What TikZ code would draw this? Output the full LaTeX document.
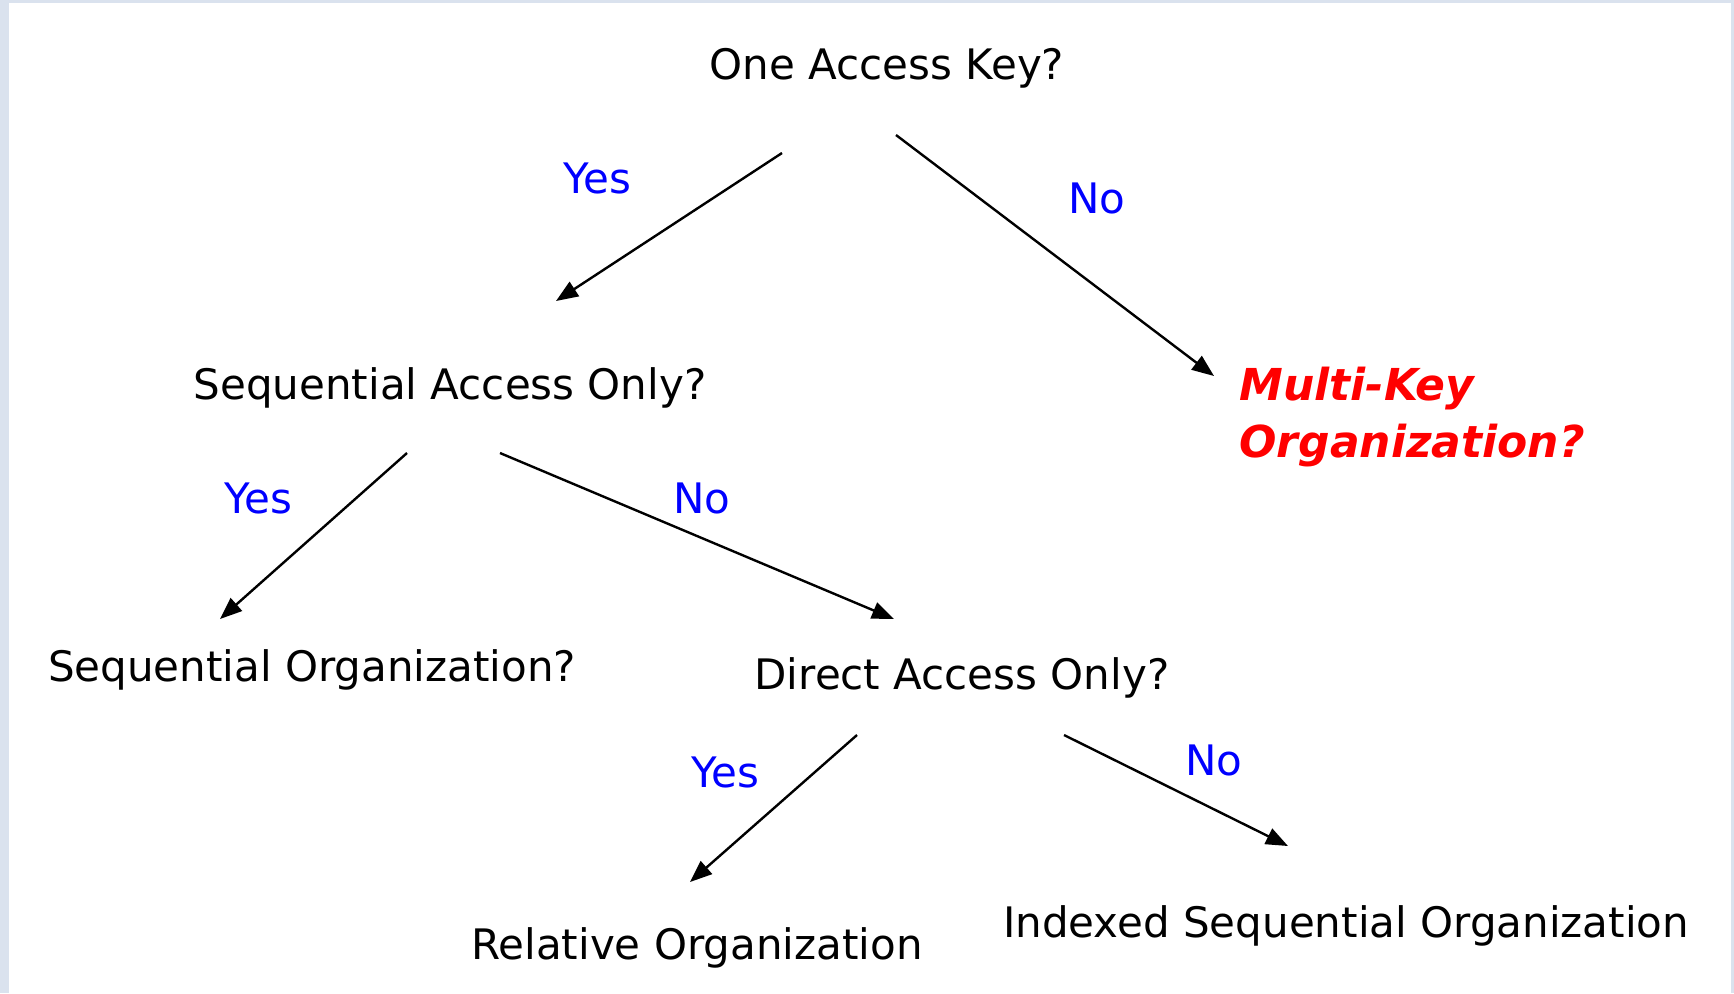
\documentclass[tikz,border=0pt]{standalone}
\usepackage{fontspec}
\setmainfont{DejaVu Sans}
\usetikzlibrary{arrows.meta}
\definecolor{framecol}{RGB}{218,226,238}
\definecolor{yescol}{RGB}{0,0,255}
\definecolor{keycol}{RGB}{255,0,0}
\begin{document}
\begin{tikzpicture}[x=0.5pt,y=-0.5pt,
  question/.style={anchor=base,inner sep=0pt,font=\fontsize{21}{25}\selectfont,text=black},
  answer/.style={anchor=base,inner sep=0pt,font=\fontsize{21}{25}\selectfont,text=yescol},
  flow/.style={draw=black,line width=1.2pt,-{Triangle[length=11pt,width=8.5pt]}}]
  % page and its thin frame
  \useasboundingbox (0,0) rectangle (1734,993);
  \fill[white] (0,0) rectangle (1734,993);
  \fill[framecol] (0,0) rectangle (9,993);
  \fill[framecol] (0,0) rectangle (1734,3);
  \fill[framecol] (1731,0) rectangle (1734,993);

  % questions and outcomes
  \node[question] (key)  at (887,79)  {One Access Key?};
  \node[question] (seq)  at (450,399) {Sequential Access Only?};
  \node[question] (sorg) at (312,681) {Sequential Organization?};
  \node[question] (dir)  at (962,689) {Direct Access Only?};
  \node[question] (rel)  at (697,959) {Relative Organization};
  \node[question] (idx)  at (1346,937) {Indexed Sequential Organization};
  % the base anchor of a two-line node sits on its last line
  \node[anchor=base west,inner sep=0pt,text=keycol,align=left,
        font=\fontsize{22}{28.5}\bfseries\itshape\selectfont] (multi) at (1239,457)
        {Multi-Key\\Organization?};

  % answer labels
  \node[answer] (y1) at (597,193) {Yes};
  \node[answer] (n1) at (1097,213) {No};
  \node[answer] (y2) at (258,513) {Yes};
  \node[answer] (n2) at (702,513) {No};
  \node[answer] (y3) at (725,787) {Yes};
  \node[answer] (n3) at (1214,775) {No};

  % arrow end points
  \coordinate (k1) at (782,153);  \coordinate (k1e) at (556,301);
  \coordinate (k2) at (896,135);  \coordinate (k2e) at (1214,376);
  \coordinate (s1) at (407,453);  \coordinate (s1e) at (220,619);
  \coordinate (s2) at (500,453);  \coordinate (s2e) at (894,619);
  \coordinate (d1) at (857,735);  \coordinate (d1e) at (690,882);
  \coordinate (d2) at (1064,735); \coordinate (d2e) at (1288,846);

  \draw[flow] (k1) -- (k1e);
  \draw[flow] (k2) -- (k2e);
  \draw[flow] (s1) -- (s1e);
  \draw[flow] (s2) -- (s2e);
  \draw[flow] (d1) -- (d1e);
  \draw[flow] (d2) -- (d2e);
\end{tikzpicture}
\end{document}
